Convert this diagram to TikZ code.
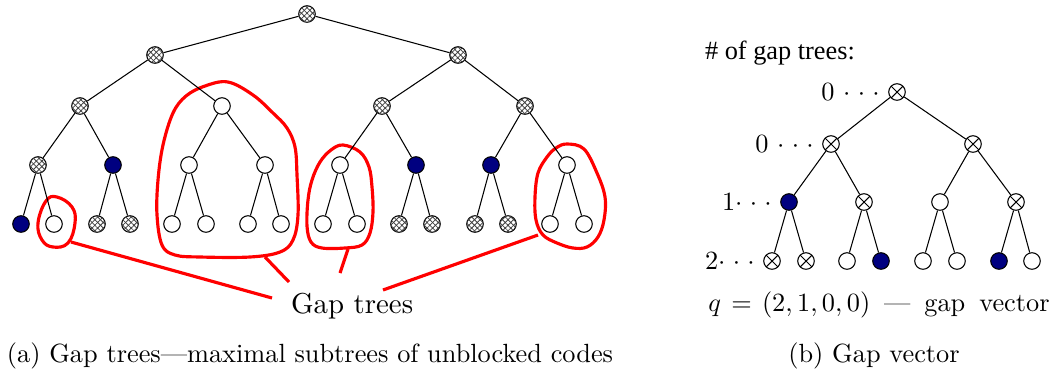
\documentclass[tikz,border=0pt]{standalone}
\usepackage{fontspec}
\usepackage{amsmath}
\usepackage{tikz}
\usetikzlibrary{positioning,patterns.meta}
\definecolor{codeblue}{HTML}{000080}
\definecolor{gapred}{HTML}{FF0000}
\newfontfamily\timesfont{Liberation Serif}
\tikzstyle{vertex} = [
    circle,
    draw,
    fill=white,
    minimum size=6.3pt,
    inner sep=0pt
    ]
\tikzstyle{free} = [vertex]
\tikzstyle{used} = [vertex, fill=codeblue]
\tikzstyle{blocked} = [
    vertex,
    postaction={pattern={Lines[angle=45,distance=1.5pt,line width=.3pt]}, pattern color=black!75},
    postaction={pattern={Lines[angle=-45,distance=1.5pt,line width=.3pt]}, pattern color=black!75}
    ]
\tikzstyle{crossed} = [
    vertex,
    path picture={\draw (path picture bounding box.south west) -- (path picture bounding box.north east)
        (path picture bounding box.north west) -- (path picture bounding box.south east);}
    ]
\tikzstyle{gapline} = [
    draw=gapred,
    line width=1.2pt
    ]
\tikzstyle{dotlabel} = [
    inner sep=0pt
    ]

\begin{document}
\begin{tikzpicture}[x=0.38pt, y=-0.38pt]
\useasboundingbox (0,0) rectangle (1061,376);

% gap trees
\draw[gapline] plot[smooth cycle, tension=0.7] coordinates {
    (57,197) (72,207) (75,223) (68,243) (53,247) (42,240) (38,223) (46,201)};
\draw[gapline] plot[smooth cycle, tension=0.6] coordinates {
    (228,82) (253,95) (273,113) (287,128) (295,147) (297,175) (298,215) (293,240)
    (280,252) (250,257) (200,257) (175,255) (162,245) (157,215) (158,180) (163,145)
    (173,113) (186,96) (205,86)};
\draw[gapline] plot[smooth cycle, tension=0.6] coordinates {
    (343,145) (360,152) (369,167) (372,187) (373,212) (370,233) (362,245) (345,248)
    (322,248) (311,242) (307,226) (308,200) (312,180) (320,162) (331,150)};
\draw[gapline] plot[smooth cycle, tension=0.6] coordinates {
    (567,144) (584,149) (597,173) (605,197) (604,220) (598,237) (587,247) (573,248)
    (557,243) (543,235) (536,220) (535,197) (538,173) (547,157) (556,148)};

% left tree
\node[blocked] (a0-1) at (307,14) {};
\foreach \x [count=\i] in {155,458}
    \node[blocked] (a1-\i) at (\x,55) {};
\foreach \x/\s [count=\i] in {80/blocked,222/free,382/blocked,525/blocked}
    \node[\s] (a2-\i) at (\x,106) {};
\foreach \x/\s [count=\i] in {38/blocked,113/used,189/free,265/free,340/free,416/used,491/used,567/free}
    \node[\s] (a3-\i) at (\x,165) {};
\foreach \x/\s [count=\i] in {21/used,54/free,97/blocked,130/blocked,172/free,206/free,248/free,281/free,
    323/free,357/free,399/blocked,432/blocked,475/blocked,508/blocked,550/free,584/free}
    \node[\s] (a4-\i) at (\x,224) {};
\foreach \l/\n in {1/2,2/4,3/8,4/16}
    \foreach \i in {1,...,\n} {
        \pgfmathtruncatemacro\p{(\i+1)/2}
        \pgfmathtruncatemacro\k{\l-1}
        \draw (a\k-\p) -- (a\l-\i);
    }

\node[anchor=base west, inner sep=0pt, font=\fontsize{10.95}{13}\selectfont] (gaps) at (290.5,313) {Gap trees};
\coordinate (t1) at (71,242);  \coordinate (e1) at (272,298);
\coordinate (t2) at (265,257); \coordinate (e2) at (289,282);
\coordinate (t3) at (348,249); \coordinate (e3) at (340,273);
\coordinate (t4) at (538,235); \coordinate (e4) at (383,290);
\foreach \i in {1,...,4}
    \draw[gapline] (t\i) -- (e\i);

% right tree
\node[anchor=base west, inner sep=0pt] (count) at (704.5,59.3) {\timesfont \# of gap trees:};
\node[crossed] (b0-1) at (897,92) {};
\foreach \x [count=\i] in {831,973}
    \node[crossed] (b1-\i) at (\x,144) {};
\foreach \x/\s [count=\i] in {789/used,864/crossed,940/free,1016/crossed}
    \node[\s] (b2-\i) at (\x,202) {};
\foreach \x/\s [count=\i] in {772/crossed,806/crossed,847/free,881/used,923/free,957/free,999/used,1032/free}
    \node[\s] (b3-\i) at (\x,261) {};
\foreach \l/\n in {1/2,2/4,3/8}
    \foreach \i in {1,...,\n} {
        \pgfmathtruncatemacro\p{(\i+1)/2}
        \pgfmathtruncatemacro\k{\l-1}
        \draw (b\k-\p) -- (b\l-\i);
    }
\node[dotlabel, left=3pt of b0-1] {$0\ {\cdot}\;{\cdot}\;{\cdot}$};
\node[dotlabel, left=3pt of b1-1] {$0\ {\cdot}\;{\cdot}\;{\cdot}$};
\node[dotlabel, left=3pt of b2-1] {$1{\cdot}\;{\cdot}\;{\cdot}$};
\node[dotlabel, left=3pt of b3-1] {$2{\cdot}\;{\cdot}\;{\cdot}$};

\node[anchor=base, inner sep=0pt] (vector) at (879,311)
    {$q\mskip7mu{=}\mskip7mu(2,1,0,0)$\hspace{5.3pt}---\hspace{5.3pt}gap\hspace{5.3pt}vector};

% captions
\node[anchor=base, inner sep=0pt] (capa) at (310,362) {(a) Gap trees---maximal subtrees of unblocked codes};
\node[anchor=base, inner sep=0pt] (capb) at (874,362) {(b) Gap vector};
\end{tikzpicture}
\end{document}
